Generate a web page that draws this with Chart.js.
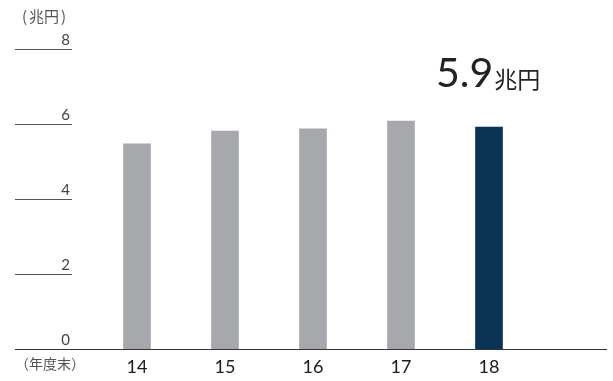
<!DOCTYPE html>
<html><head><meta charset="utf-8">
<script src="https://cdn.jsdelivr.net/npm/chart.js@4"></script>
<style>html,body{margin:0;padding:0;background:#fff}#wrap{width:613px;height:381px}</style>
</head><body><div id="wrap"><canvas id="c" width="613" height="381"></canvas></div>
<script>
const categories = ['14','15','16','17','18'];
const values = [5.47, 5.81, 5.87, 6.08, 5.92];
const yTicks = [0, 2, 4, 6, 8];
const barColors = ['#a7a8ab','#a7a8ab','#a7a8ab','#a7a8ab','#0b3354'];
const unitLabel = '(兆円)';
const xAxisLabel = '（年度末）';
const calloutValue = '5.9';
const calloutUnit = '兆円';
const FONT = "Lato, 'Noto Sans CJK JP', sans-serif";

const deco = {
  id: 'deco',
  afterDraw(chart) {
    const ctx = chart.ctx, y = chart.scales.y;
    ctx.save();
    yTicks.forEach(v => {
      const py = Math.round(y.getPixelForValue(v)) + 0.5;
      ctx.strokeStyle = '#555';
      ctx.lineWidth = 1;
      if (v !== 0) {
        ctx.beginPath(); ctx.moveTo(15, py); ctx.lineTo(72, py); ctx.stroke();
      }
      ctx.fillStyle = '#444';
      ctx.font = "15px " + FONT;
      ctx.textAlign = 'right'; ctx.textBaseline = 'alphabetic';
      ctx.fillText(String(v), 70, py - 5);
    });
    const by = Math.round(y.getPixelForValue(0)) + 0.5;
    ctx.strokeStyle = '#333'; ctx.lineWidth = 1;
    ctx.beginPath(); ctx.moveTo(15, by); ctx.lineTo(607, by); ctx.stroke();
    ctx.fillStyle = '#555';
    ctx.font = "15px 'Noto Sans CJK JP', sans-serif";
    ctx.textAlign = 'left';
    ctx.fillText('(', 22, 22);
    ctx.fillText('兆円', 29, 22);
    ctx.fillText(')', 61, 22);
    ctx.font = "14px 'Noto Sans CJK JP', sans-serif";
    ctx.fillText(xAxisLabel, 15, 369);
    ctx.fillStyle = '#222';
    ctx.font = "41px " + FONT;
    ctx.fillText(calloutValue, 436, 87);
    const w = ctx.measureText(calloutValue).width;
    ctx.font = "23px 'Noto Sans CJK JP', sans-serif";
    ctx.fillText(calloutUnit, 436 + w + 1, 88);
    ctx.restore();
  }
};

new Chart(document.getElementById('c'), {
  type: 'bar',
  data: { labels: categories, datasets: [{ data: values, backgroundColor: barColors, barThickness: 27 }] },
  options: {
    responsive: false, animation: false,
    layout: { padding: { top: 49, left: 93, right: 80, bottom: 0 } },
    plugins: { legend: { display: false }, tooltip: { enabled: false } },
    scales: {
      x: {
        grid: { display: false, drawTicks: false }, border: { display: false },
        ticks: { color: '#1a1a1a', font: { family: FONT, size: 18 }, padding: 7 },
        afterFit(s) { s.height = 32; }
      },
      y: { display: false, min: 0, max: 8 }
    }
  },
  plugins: [deco]
});
</script></body></html>
